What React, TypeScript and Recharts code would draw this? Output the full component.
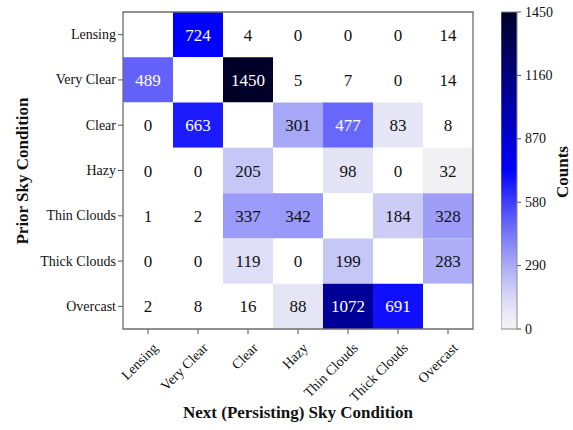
import {
  ScatterChart,
  Scatter,
  XAxis,
  YAxis,
  ReferenceArea,
  BarChart,
  Bar,
} from "recharts";

const skyLabels = [
  "Lensing",
  "Very Clear",
  "Clear",
  "Hazy",
  "Thin Clouds",
  "Thick Clouds",
  "Overcast",
];

// transition counts, one row per prior condition (diagonal left empty)
const fromLensing = [null, 724, 4, 0, 0, 0, 14];
const fromVeryClear = [489, null, 1450, 5, 7, 0, 14];
const fromClear = [0, 663, null, 301, 477, 83, 8];
const fromHazy = [0, 0, 205, null, 98, 0, 32];
const fromThinClouds = [1, 2, 337, 342, null, 184, 328];
const fromThickClouds = [0, 0, 119, 0, 199, null, 283];
const fromOvercast = [2, 8, 16, 88, 1072, 691, null];

const countRows: (number | null)[][] = [
  fromLensing,
  fromVeryClear,
  fromClear,
  fromHazy,
  fromThinClouds,
  fromThickClouds,
  fromOvercast,
];

const colorbarTicks = [0, 290, 580, 870, 1160, 1450];
const countMax = 1450;

const FONT = "Liberation Serif";

// whitesmoke -> blue -> navy
function countColor(v: number) {
  const t = Math.max(0, Math.min(1, v / countMax));
  if (t <= 0.5) {
    const f = Math.pow(t / 0.5, 1.3);
    const rg = Math.round(245 * (1 - f));
    const b = Math.round(245 + 10 * f);
    return `rgb(${rg},${rg},${b})`;
  }
  const f = (t - 0.5) / 0.5;
  return `rgb(0,0,${Math.round(255 - 215 * f)})`;
}

function cellFill(v: number | null) {
  if (v === null || v < 20) return "#ffffff";
  return countColor(v);
}

const cells = countRows.flatMap((row, r) =>
  row.map((v, c) => ({ x: c, y: r, v }))
);

const gradientStops = Array.from({ length: 21 }, (_, i) => i / 20);

function XTick(props: any) {
  const { x, y, payload } = props;
  return (
    <text
      x={x + 4}
      y={y + 6}
      transform={`rotate(-45, ${x + 4}, ${y + 6})`}
      textAnchor="end"
      dominantBaseline="hanging"
      fontSize={14}
      fontFamily={FONT}
      fill="#111"
    >
      {skyLabels[payload.value]}
    </text>
  );
}

function YTick(props: any) {
  const { x, y, payload } = props;
  return (
    <text
      x={x}
      y={y}
      textAnchor="end"
      dominantBaseline="central"
      fontSize={14}
      fontFamily={FONT}
      fill="#111"
    >
      {skyLabels[payload.value]}
    </text>
  );
}

function BarTick(props: any) {
  const { x, y, payload } = props;
  return (
    <text
      x={x}
      y={y}
      textAnchor="start"
      dominantBaseline="central"
      fontSize={14}
      fontFamily={FONT}
      fill="#111"
    >
      {payload.value}
    </text>
  );
}

export default function App() {
  return (
    <div
      style={{
        position: "absolute",
        left: 0,
        top: 0,
        width: 573,
        height: 430,
        background: "#fff",
        fontFamily: FONT,
      }}
    >
      <div style={{ position: "absolute", left: 0, top: 0 }}>
        <ScatterChart
          width={573}
          height={430}
          margin={{ top: 12, right: 100, bottom: 31, left: 43 }}
        >
          <XAxis
            type="number"
            dataKey="x"
            domain={[-0.5, 6.5]}
            ticks={[0, 1, 2, 3, 4, 5, 6]}
            allowDataOverflow
            axisLine={false}
            tickLine={{ stroke: "#555" }}
            tickSize={5}
            height={70}
            tick={<XTick />}
            interval={0}
          />
          <YAxis
            type="number"
            dataKey="y"
            domain={[-0.5, 6.5]}
            ticks={[0, 1, 2, 3, 4, 5, 6]}
            reversed
            allowDataOverflow
            axisLine={false}
            tickLine={{ stroke: "#555" }}
            tickSize={5}
            width={80}
            interval={0}
            tick={<YTick />}
          />
          {cells.map((cell) => (
            <ReferenceArea
              key={`${cell.x}-${cell.y}`}
              x1={cell.x - 0.5}
              x2={cell.x + 0.5}
              y1={cell.y - 0.5}
              y2={cell.y + 0.5}
              fill={cellFill(cell.v)}
              fillOpacity={1}
              stroke="none"
              label={
                cell.v === null
                  ? undefined
                  : {
                      value: cell.v,
                      position: "center",
                      fontSize: 17,
                      fontFamily: FONT,
                      fill: cell.v > 400 ? "#ffffff" : "#111111",
                    }
              }
            />
          ))}
          <ReferenceArea
            x1={-0.5}
            x2={6.5}
            y1={-0.5}
            y2={6.5}
            fill="none"
            fillOpacity={0}
            stroke="#6e6e6e"
            strokeWidth={1.3}
          />
          <Scatter
            data={cells}
            isAnimationActive={false}
            shape={() => <g />}
          />
        </ScatterChart>
      </div>

      <div style={{ position: "absolute", left: 501, top: 0 }}>
        <BarChart
          width={70}
          height={430}
          data={[{ name: "Counts", value: countMax }]}
          margin={{ top: 12, right: 0, bottom: 101, left: 0 }}
          barCategoryGap={0}
        >
          <defs>
            <linearGradient id="countsScale" x1="0" y1="1" x2="0" y2="0">
              {gradientStops.map((t) => (
                <stop
                  key={t}
                  offset={`${t * 100}%`}
                  stopColor={countColor(t * countMax)}
                />
              ))}
            </linearGradient>
          </defs>
          <XAxis dataKey="name" hide />
          <YAxis
            orientation="right"
            domain={[0, countMax]}
            ticks={colorbarTicks}
            width={54}
            axisLine={false}
            tickLine={{ stroke: "#555" }}
            tickSize={4}
            tickMargin={4}
            tick={<BarTick />}
          />
          <Bar
            dataKey="value"
            fill="url(#countsScale)"
            stroke="#888"
            strokeWidth={1}
            isAnimationActive={false}
          />
        </BarChart>
      </div>

      <svg
        width={573}
        height={430}
        style={{ position: "absolute", left: 0, top: 0, pointerEvents: "none" }}
      >
        <text
          x={22}
          y={171}
          transform="rotate(-90, 22, 171)"
          textAnchor="middle"
          dominantBaseline="central"
          fontSize={17}
          fontWeight="bold"
          fontFamily={FONT}
          fill="#111"
        >
          Prior Sky Condition
        </text>
        <text
          x={298}
          y={418}
          textAnchor="middle"
          fontSize={17}
          fontWeight="bold"
          fontFamily={FONT}
          fill="#111"
        >
          Next (Persisting) Sky Condition
        </text>
        <text
          x={562}
          y={172}
          transform="rotate(-90, 562, 172)"
          textAnchor="middle"
          dominantBaseline="central"
          fontSize={17}
          fontWeight="bold"
          fontFamily={FONT}
          fill="#111"
        >
          Counts
        </text>
      </svg>
    </div>
  );
}
